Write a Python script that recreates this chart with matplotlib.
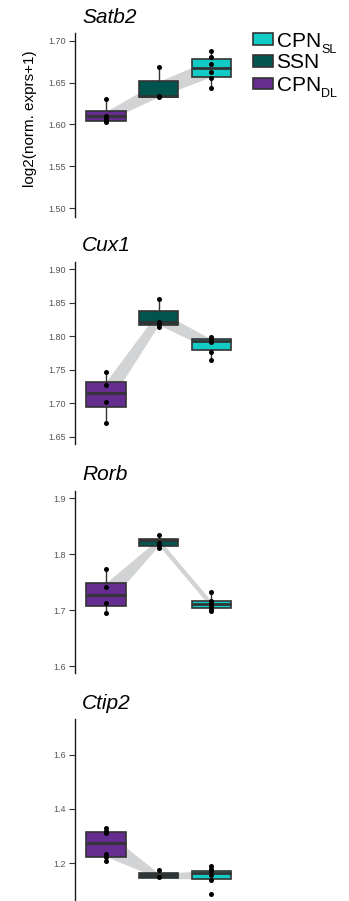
import matplotlib
matplotlib.use("Agg")
import matplotlib.pyplot as plt
from matplotlib.patches import Rectangle

plt.rcParams['font.family'] = ['Liberation Sans', 'DejaVu Sans']

genes = ["Satb2", "Cux1", "Rorb", "Ctip2"]
groups = ["CPN_DL", "SSN", "CPN_SL"]          # x order 1, 2, 3
group_colors = ["#652D90", "#00554F", "#12CBC5"]

# box stats per gene, per group: [whisker_lo, q1, median, q3, whisker_hi]
box_stats = {
    "Satb2": [[1.603, 1.604, 1.6105, 1.6157, 1.630],
              [1.633, 1.633, 1.634, 1.6515, 1.668],
              [1.6435, 1.657, 1.6678, 1.6777, 1.688]],
    "Cux1":  [[1.6699, 1.6938, 1.7147, 1.7322, 1.7461],
              [1.8145, 1.8172, 1.8208, 1.8381, 1.8552],
              [1.7644, 1.7795, 1.7934, 1.7959, 1.7993]],
    "Rorb":  [[1.6949, 1.7074, 1.7271, 1.7491, 1.773],
              [1.8117, 1.8153, 1.8249, 1.8278, 1.835],
              [1.6979, 1.7044, 1.711, 1.7163, 1.733]],
    "Ctip2": [[1.2086, 1.2245, 1.2736, 1.3166, 1.3288],
              [1.145, 1.145, 1.157, 1.163, 1.1755],
              [1.1387, 1.1411, 1.1632, 1.173, 1.1902]],
}

# individual samples per gene, per group
points = {
    "Satb2": [[1.630, 1.6105, 1.6066, 1.6042, 1.603],
              [1.668, 1.634, 1.633],
              [1.688, 1.680, 1.672, 1.6626, 1.6559, 1.6435]],
    "Cux1":  [[1.7461, 1.7277, 1.7023, 1.6699],
              [1.8552, 1.8208, 1.818, 1.8145],
              [1.7993, 1.7953, 1.7918, 1.7768, 1.7644]],
    "Rorb":  [[1.773, 1.7414, 1.7122, 1.6949],
              [1.835, 1.8207, 1.8159, 1.8117],
              [1.733, 1.7169, 1.7121, 1.7074, 1.7026, 1.6979]],
    "Ctip2": [[1.3288, 1.3202, 1.3129, 1.2344, 1.2245, 1.2086],
              [1.1755, 1.1485],
              [1.1902, 1.1804, 1.1706, 1.157, 1.1387, 1.086]],
}

yticks = {
    "Satb2": [1.50, 1.55, 1.60, 1.65, 1.70],
    "Cux1": [1.65, 1.70, 1.75, 1.80, 1.85, 1.90],
    "Rorb": [1.6, 1.7, 1.8, 1.9],
    "Ctip2": [1.2, 1.4, 1.6],
}
ytick_labels = {
    "Satb2": ["1.50", "1.55", "1.60", "1.65", "1.70"],
    "Cux1": ["1.65", "1.70", "1.75", "1.80", "1.85", "1.90"],
    "Rorb": ["1.6", "1.7", "1.8", "1.9"],
    "Ctip2": ["1.2", "1.4", "1.6"],
}
ylims = {
    "Satb2": (1.490, 1.7088),
    "Cux1": (1.639, 1.9114),
    "Rorb": (1.5875, 1.9136),
    "Ctip2": (1.061, 1.730),
}

legend_order = [2, 1, 0]
legend_main = ["CPN", "SSN", "CPN"]
legend_sub = {0: "DL", 1: "", 2: "SL"}

W, H = 349, 901
fig = plt.figure(figsize=(W / 100, H / 100), dpi=100)

# panel geometry in pixels (top, bottom)
panel_px = [(33.3, 216.7), (261.7, 444.0), (490.7, 673.0), (719.3, 901.0)]
left_px, width_px = 74.5, 168.3

xs = [1, 2, 3]
for gene, (top, bot) in zip(genes, panel_px):
    ax = fig.add_axes([left_px / W, 1 - bot / H, width_px / W, (bot - top) / H])
    st = box_stats[gene]
    q1s = [s[1] for s in st]
    q3s = [s[3] for s in st]
    ax.fill_between(xs, q1s, q3s, color="#D2D3D4", lw=0, zorder=1)
    bstats = []
    for s in st:
        bstats.append(dict(whislo=s[0], q1=s[1], med=s[2], q3=s[3], whishi=s[4], fliers=[]))
    bp = ax.bxp(bstats, positions=xs, widths=0.75, patch_artist=True,
                showfliers=False, showcaps=False,
                boxprops=dict(edgecolor="#333333", linewidth=1.2),
                medianprops=dict(color="#333333", linewidth=2.0),
                whiskerprops=dict(color="#333333", linewidth=1.0),
                manage_ticks=False)
    for patch, c in zip(bp["boxes"], group_colors):
        patch.set_facecolor(c)
        patch.set_zorder(2)
    for ln in bp["medians"] + bp["whiskers"]:
        ln.set_zorder(2)
    for x, pts in zip(xs, points[gene]):
        ax.plot([x] * len(pts), pts, "o", color="black", ms=3.6, zorder=4, mec="none")
    ax.set_xlim(0.4, 3.6)
    ax.set_ylim(*ylims[gene])
    ax.set_yticks(yticks[gene])
    ax.set_yticklabels(ytick_labels[gene])
    ax.set_xticks([])
    for sp in ["top", "right", "bottom"]:
        ax.spines[sp].set_visible(False)
    ax.spines["left"].set_color("#1a1a1a")
    ax.spines["left"].set_linewidth(1.0)
    ax.tick_params(axis="y", length=4.0, width=0.8, color="#333333",
                   labelsize=6.5, labelcolor="#555555", pad=2.5)
    ax.patch.set_alpha(0)
    ax.annotate(gene, xy=(0, 1), xycoords="axes fraction",
                xytext=(5.5, 4.5), textcoords="offset points",
                fontsize=15, fontstyle="italic", ha="left", va="bottom")

# y label
fig.text(29.7 / W, 1 - 118.5 / H, "log2(norm. exprs+1)", rotation=90,
         ha="center", va="center", fontsize=11)

# legend (manual)
box_w, box_h = 20, 11.5
centers = [39.2, 60.8, 83.3]
fig.canvas.draw()
renderer = fig.canvas.get_renderer()
for k, gi in enumerate(legend_order):
    cy = centers[k]
    rect = Rectangle(((253.3) / W, 1 - (cy + box_h / 2) / H), box_w / W, box_h / H,
                     transform=fig.transFigure, facecolor=group_colors[gi],
                     edgecolor="#333333", linewidth=1.2)
    fig.patches.append(rect)
    t = fig.text(276.5 / W, 1 - (cy + 7.5) / H, legend_main[k], fontsize=15,
                 ha="left", va="baseline")
    sub = legend_sub[gi]
    if sub:
        bb = t.get_window_extent(renderer)
        fig.text((bb.x1 + 0.5) / W, 1 - (cy + 14.0) / H, sub, fontsize=9,
                 ha="left", va="baseline")

fig.savefig("out.png", dpi=100)
